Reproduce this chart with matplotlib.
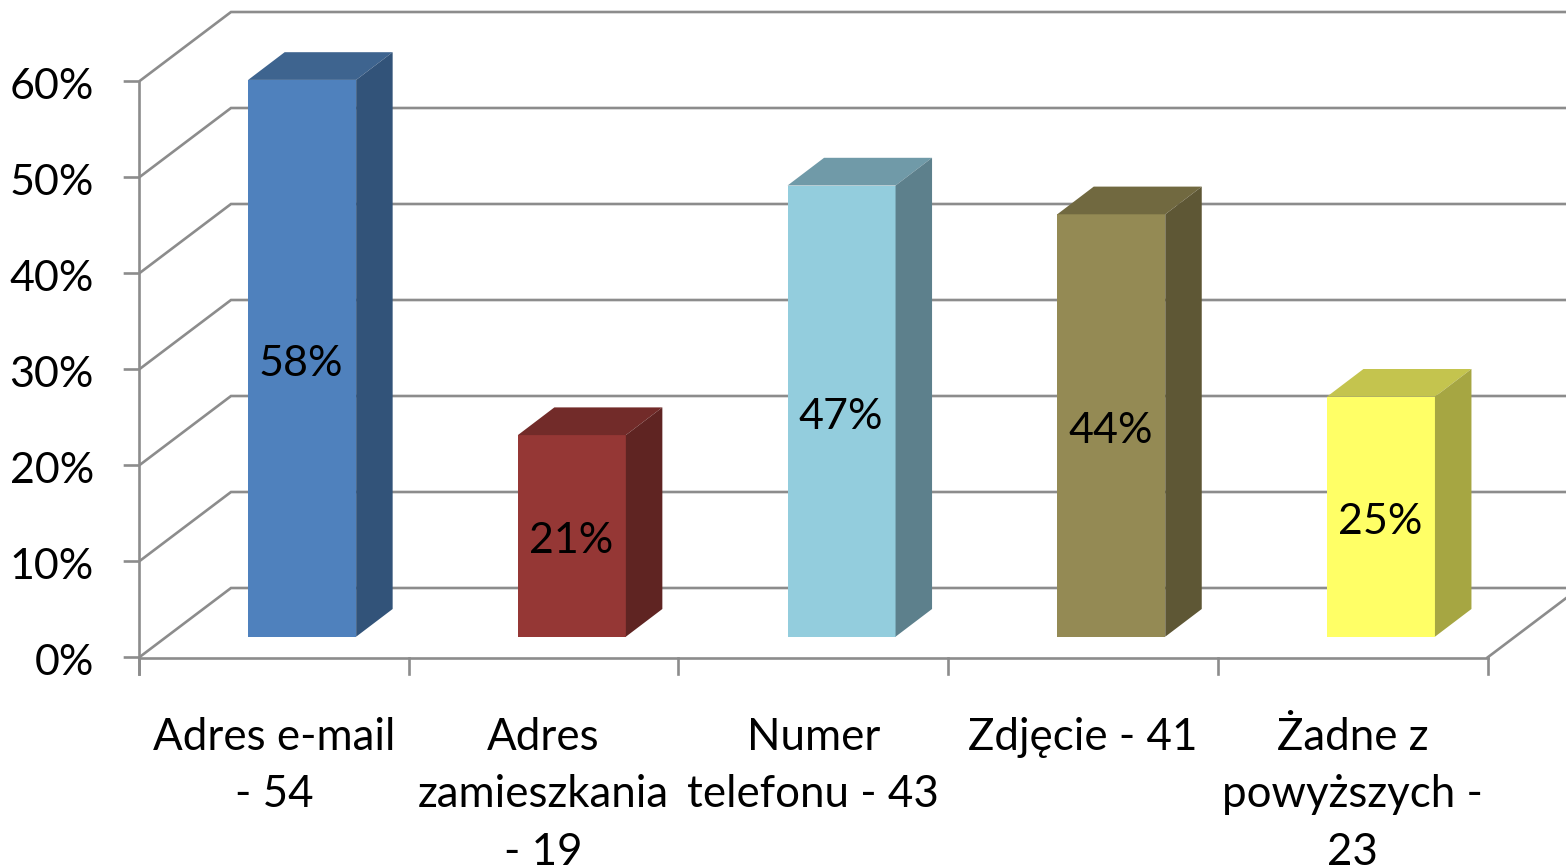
#!/usr/bin/env python3
"""
3d look column chart, drawn on a flat axes with the depth as an oblique offset
"""
import numpy as np
import matplotlib
matplotlib.use('Agg')
import matplotlib.pyplot as plt
from matplotlib.patches import Polygon

categories = ['Adres e-mail\n- 54', 'Adres\nzamieszkania\n- 19', 'Numer\ntelefonu - 43',
              'Zdjęcie - 41', 'Żadne z\npowyższych -\n23']
values = [58, 21, 47, 44, 25]
value_labels = ['58%', '21%', '47%', '44%', '25%']
y_ticks = [0, 10, 20, 30, 40, 50, 60]
y_tick_labels = ['0%', '10%', '20%', '30%', '40%', '50%', '60%']

front_colors = ['#4f81bd', '#953735', '#93cddd', '#948a54', '#ffff66']
top_colors = ['#3e648f', '#722b29', '#709aa8', '#716940', '#c4c44e']
side_colors = ['#325379', '#5f2422', '#5d808c', '#5e5735', '#a6a642']

W, H = 1566, 867
CAT_PX = 269.7   # pixels per category
PCT_PX = 9.6     # pixels per percent
X0, Y0 = 139.0, 657.5

# oblique offset of the back wall and of the columns, in data units
wall_dx, wall_dy = 92.0 / CAT_PX, 69.5 / PCT_PX
bar_off_x, bar_off_y = 28.3 / CAT_PX, 20.8 / PCT_PX
bar_dx, bar_dy = 36.5 / CAT_PX, 27.7 / PCT_PX
bar_w = 108.0 / CAT_PX
text_drop = 5.5 / PCT_PX

grid = '#8c8c8c'
lw = 1.9

fig = plt.figure(figsize=(W / 100, H / 100), dpi=100)
ax = fig.add_axes([0, 0, 1, 1])
ax.set_xlim(-X0 / CAT_PX, (W - X0) / CAT_PX)
ax.set_ylim(-(H - Y0) / PCT_PX, Y0 / PCT_PX)
ax.axis('off')

n = len(categories)
x_right = float(n)
x_far = (W + 100) / CAT_PX

# gridlines on side wall and back wall
for t in y_ticks:
    ax.plot([-14 / CAT_PX, 0, wall_dx, x_far], [t, t, t + wall_dy, t + wall_dy],
            color=grid, lw=lw, solid_joinstyle='miter', zorder=1)

# front axis lines and ticks
ax.plot([0, 0], [-16 / PCT_PX, y_ticks[-1]], color=grid, lw=lw, zorder=1)
ax.plot([0, x_right], [0, 0], color=grid, lw=lw, zorder=1)
ax.plot([x_right, x_right + wall_dx], [0, wall_dy], color=grid, lw=lw, zorder=1)
for i in range(n + 1):
    ax.plot([i, i], [0, -16 / PCT_PX], color=grid, lw=lw, zorder=1)

for t, lab in zip(y_ticks, y_tick_labels):
    ax.text(-45 / CAT_PX, t - text_drop, lab, ha='right', va='center', fontsize=31,
            family='Lato', color='black')

for i, v in enumerate(values):
    x0 = i + (1 - bar_w) / 2 + bar_off_x
    x1 = x0 + bar_w
    y0 = bar_off_y
    y1 = y0 + v
    ax.add_patch(Polygon([(x0, y0), (x1, y0), (x1, y1), (x0, y1)], closed=True,
                         fc=front_colors[i], ec='none', zorder=3))
    ax.add_patch(Polygon([(x0, y1), (x1, y1), (x1 + bar_dx, y1 + bar_dy), (x0 + bar_dx, y1 + bar_dy)],
                         closed=True, fc=top_colors[i], ec='none', zorder=3))
    ax.add_patch(Polygon([(x1, y0), (x1 + bar_dx, y0 + bar_dy), (x1 + bar_dx, y1 + bar_dy), (x1, y1)],
                         closed=True, fc=side_colors[i], ec='none', zorder=3))
    ax.text((x0 + x1) / 2 - 1 / CAT_PX, y0 + v / 2 - text_drop, value_labels[i], ha='center', va='center',
            fontsize=31, family='Lato', color='black', zorder=4)

for i, lab in enumerate(categories):
    ax.text(i + 0.5, -(716.5 - Y0) / PCT_PX, lab, ha='center', va='top', fontsize=31.6,
            family='Lato', color='black', linespacing=1.51, clip_on=True)

fig.savefig('out.png', dpi=100)
